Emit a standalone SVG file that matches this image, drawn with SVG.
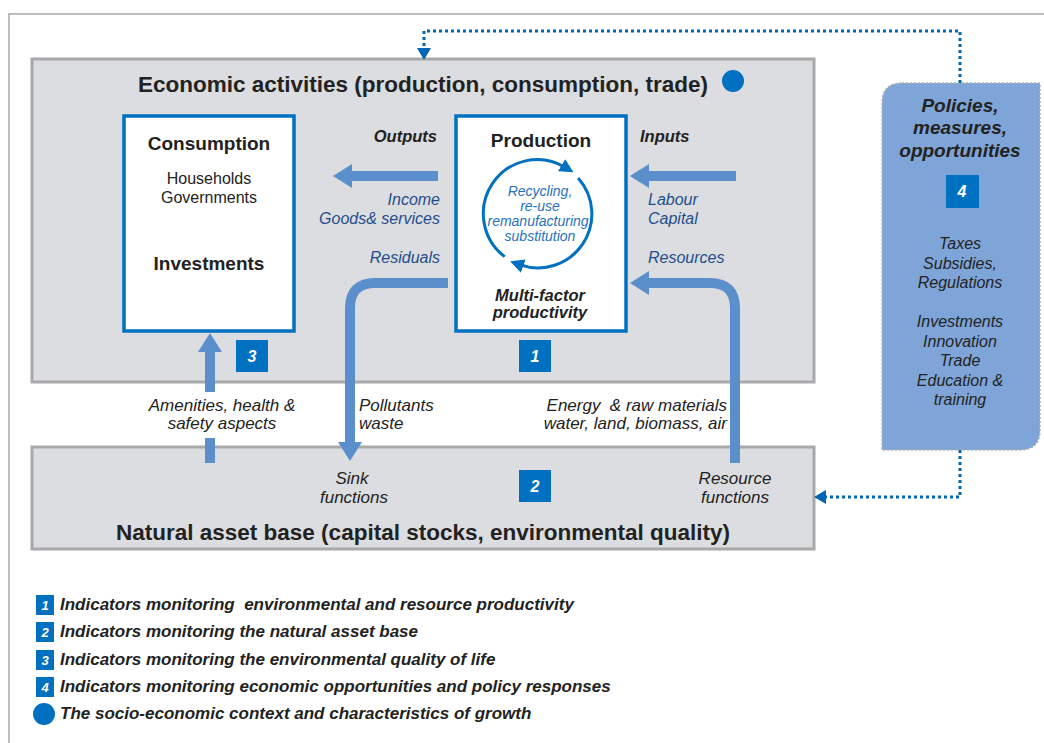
<svg xmlns="http://www.w3.org/2000/svg" width="1044" height="743" viewBox="0 0 1044 743">
<defs>
<style>
.t{font-family:"Liberation Sans",Arial,sans-serif;}
.title{font-size:22.5px;font-weight:bold;fill:#222;}
.nodeT{font-size:19px;font-weight:bold;fill:#222;}
.sub{font-size:16px;fill:#222;}
.lab{font-size:17px;font-style:italic;fill:#222;white-space:pre;}
.labB{font-size:16.5px;font-style:italic;font-weight:bold;fill:#222;}
.blue{font-size:16px;font-style:italic;fill:#1f4e8c;}
.rec{font-size:14px;font-style:italic;fill:#1f72c0;}
.num{font-size:16px;font-style:italic;font-weight:bold;fill:#fff;}
.lnum{font-size:13px;font-style:italic;font-weight:bold;fill:#fff;}
.leg{font-size:17px;font-style:italic;font-weight:bold;fill:#222;white-space:pre;}
.pol{font-size:19px;font-style:italic;font-weight:bold;fill:#222;}
.polL{font-size:16px;font-style:italic;fill:#222;}
.panel{fill:#dcdde0;stroke:#a9a9a9;stroke-width:3;}
.node{fill:#fff;stroke:#0070c0;stroke-width:3.5;}
.sq{fill:#0070c0;}
.fat{fill:none;stroke:#5b8fcb;stroke-width:10;}
.dot{fill:none;stroke:#0066b3;stroke-width:3;stroke-dasharray:3,3;}
.cyc{fill:none;stroke:#0070c0;stroke-width:3;}
</style>
<marker id="fatHead" markerUnits="userSpaceOnUse" markerWidth="20" markerHeight="24" refX="0" refY="12" orient="auto" viewBox="0 0 20 24">
<path d="M0,0 L19,12 L0,24 Z" fill="#5b8fcb"/>
</marker>
<marker id="dotHead" markerUnits="userSpaceOnUse" markerWidth="12" markerHeight="14" refX="0" refY="7" orient="auto" viewBox="0 0 12 14">
<path d="M0,0 L12,7 L0,14 Z" fill="#0066b3"/>
</marker>
<marker id="cycHead" markerUnits="userSpaceOnUse" markerWidth="14" markerHeight="14" refX="4" refY="7" orient="auto" viewBox="0 0 14 14">
<path d="M0,0 L14,7 L0,14 Z" fill="#0070c0"/>
</marker>
</defs>
<rect width="1044" height="743" fill="#fff"/>
<path d="M9,743 V14 H1044" fill="none" stroke="#a9a9a9" stroke-width="1.5"/>

<g id="economic-activities">
<rect class="panel" x="32" y="59" width="782" height="323"/>
<text class="t title" x="423" y="92" text-anchor="middle">Economic activities (production, consumption, trade)</text>
<circle cx="733" cy="81" r="11" fill="#0070c0"/>
</g>

<g id="natural-asset-base">
<rect class="panel" x="32" y="447" width="782" height="102"/>
<text class="t title" x="423" y="540" text-anchor="middle">Natural asset base (capital stocks, environmental quality)</text>
<text class="t lab" x="352" y="484" text-anchor="middle">Sink</text>
<text class="t lab" x="354" y="503" text-anchor="middle">functions</text>
<text class="t lab" x="735" y="484" text-anchor="middle">Resource</text>
<text class="t lab" x="735" y="503" text-anchor="middle">functions</text>
<rect class="sq" x="519" y="470" width="32" height="32"/>
<text class="t num" x="535" y="492" text-anchor="middle">2</text>
</g>

<g id="consumption">
<rect class="node" x="124" y="116" width="170" height="215"/>
<text class="t nodeT" x="209" y="150" text-anchor="middle">Consumption</text>
<text class="t sub" x="209" y="184" text-anchor="middle">Households</text>
<text class="t sub" x="209" y="203" text-anchor="middle">Governments</text>
<text class="t nodeT" x="209" y="270" text-anchor="middle">Investments</text>
<rect class="sq" x="236" y="340" width="32" height="32"/>
<text class="t num" x="252" y="362" text-anchor="middle">3</text>
</g>

<g id="production">
<rect class="node" x="456" y="116" width="170" height="215"/>
<text class="t nodeT" x="541" y="147" text-anchor="middle">Production</text>
<path class="cyc" d="M504.7,256.6 A54,54 0 0 1 565,167.2" marker-end="url(#cycHead)"/>
<path class="cyc" d="M578.1,177.9 A54,54 0 0 1 519.5,264.7" marker-end="url(#cycHead)"/>
<text class="t rec" x="540" y="196" text-anchor="middle">Recycling,</text>
<text class="t rec" x="540" y="211" text-anchor="middle">re-use</text>
<text class="t rec" x="540" y="226" text-anchor="middle">remanufacturing,</text>
<text class="t rec" x="540" y="241" text-anchor="middle">substitution</text>
<text class="t labB" x="540" y="301" text-anchor="middle">Multi-factor</text>
<text class="t labB" x="540" y="318" text-anchor="middle">productivity</text>
<rect class="sq" x="519" y="340" width="32" height="32"/>
<text class="t num" x="535" y="362" text-anchor="middle">1</text>
</g>

<g id="policies">
<path d="M902,83 H1040 V430 Q1040,450 1020,450 H882 V103 Q882,83 902,83 Z" fill="#7fa5d8" stroke="#b0b0b0" stroke-width="1.5" stroke-dasharray="2,2"/>
<text class="t pol" x="960" y="112" text-anchor="middle">Policies,</text>
<text class="t pol" x="960" y="134" text-anchor="middle">measures,</text>
<text class="t pol" x="960" y="157" text-anchor="middle">opportunities</text>
<rect class="sq" x="946" y="175" width="33" height="33"/>
<text class="t num" x="962" y="197" text-anchor="middle">4</text>
<text class="t polL" x="960" y="249" text-anchor="middle">Taxes</text>
<text class="t polL" x="960" y="269" text-anchor="middle">Subsidies,</text>
<text class="t polL" x="960" y="288" text-anchor="middle">Regulations</text>
<text class="t polL" x="960" y="327" text-anchor="middle">Investments</text>
<text class="t polL" x="960" y="347" text-anchor="middle">Innovation</text>
<text class="t polL" x="960" y="366" text-anchor="middle">Trade</text>
<text class="t polL" x="960" y="386" text-anchor="middle">Education &amp;</text>
<text class="t polL" x="960" y="405" text-anchor="middle">training</text>
</g>

<g id="connectors">
<path class="fat" d="M438,176 H352" marker-end="url(#fatHead)"/>
<path class="fat" d="M736,176 H649" marker-end="url(#fatHead)"/>
<path class="fat" d="M448,283 H375 Q350,283 350,308 V442" marker-end="url(#fatHead)"/>
<path class="fat" d="M735,463 V308 Q735,283 710,283 H649" marker-end="url(#fatHead)"/>
<path class="fat" d="M210,463 V438"/>
<path class="fat" d="M210,392 V352" marker-end="url(#fatHead)"/>
<path class="dot" d="M960,83 V31 H424 V48" marker-end="url(#dotHead)"/>
<path class="dot" d="M960,450 V497 H826" marker-end="url(#dotHead)"/>
<text class="t labB" x="437" y="142" text-anchor="end">Outputs</text>
<text class="t blue" x="440" y="205" text-anchor="end">Income</text>
<text class="t blue" x="440" y="224" text-anchor="end">Goods&amp; services</text>
<text class="t blue" x="440" y="263" text-anchor="end">Residuals</text>
<text class="t labB" x="640" y="142">Inputs</text>
<text class="t blue" x="648" y="205">Labour</text>
<text class="t blue" x="648" y="224">Capital</text>
<text class="t blue" x="648" y="263">Resources</text>
<text class="t lab" x="222" y="411" text-anchor="middle">Amenities, health &amp;</text>
<text class="t lab" x="222" y="429" text-anchor="middle">safety aspects</text>
<text class="t lab" x="359" y="411">Pollutants</text>
<text class="t lab" x="359" y="429">waste</text>
<text class="t lab" x="727" y="411" text-anchor="end">Energy  &amp; raw materials</text>
<text class="t lab" x="727" y="429" text-anchor="end">water, land, biomass, air</text>
</g>

<g id="legend">
<rect class="sq" x="36" y="595" width="18" height="20"/>
<text class="t lnum" x="45" y="610" text-anchor="middle">1</text>
<text class="t leg" x="60" y="610">Indicators monitoring  environmental and resource productivity</text>
<rect class="sq" x="36" y="622" width="18" height="20"/>
<text class="t lnum" x="45" y="637" text-anchor="middle">2</text>
<text class="t leg" x="60" y="637">Indicators monitoring the natural asset base</text>
<rect class="sq" x="36" y="650" width="18" height="20"/>
<text class="t lnum" x="45" y="665" text-anchor="middle">3</text>
<text class="t leg" x="60" y="665">Indicators monitoring the environmental quality of life</text>
<rect class="sq" x="36" y="677" width="18" height="20"/>
<text class="t lnum" x="45" y="692" text-anchor="middle">4</text>
<text class="t leg" x="60" y="692">Indicators monitoring economic opportunities and policy responses</text>
<circle cx="44" cy="714" r="11" fill="#0070c0"/>
<text class="t leg" x="60" y="719">The socio-economic context and characteristics of growth</text>
</g>
</svg>
